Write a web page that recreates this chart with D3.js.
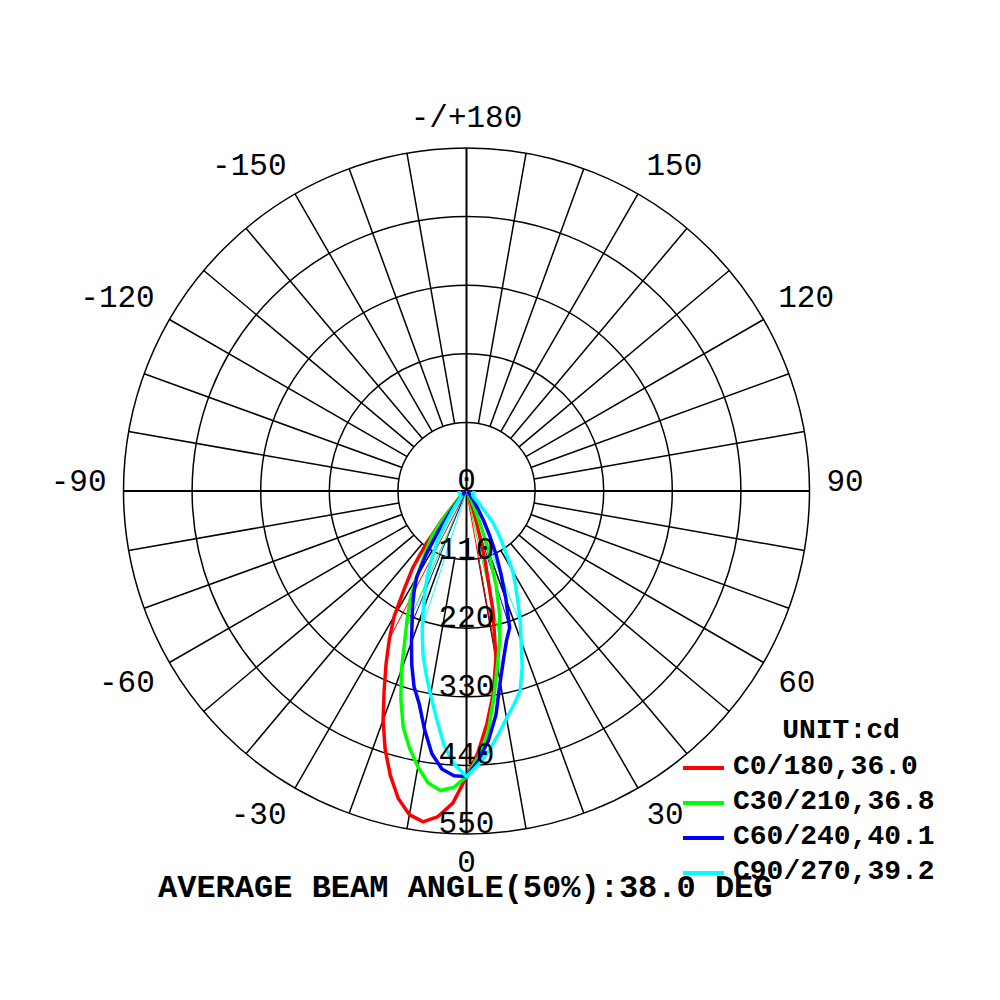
<!DOCTYPE html>
<html><head><meta charset="utf-8">
<script src="https://cdn.jsdelivr.net/npm/d3@7"></script>
<style>body{margin:0;background:#fff}</style>
</head><body>
<svg id="chart" width="1000" height="1000"></svg>
<script>
// gamma angles (deg from nadir)
const gamma = [0,2.5,5,7.5,10,12.5,15,17.5,20,22.5,25,27.5,30,32.5,35,37.5,40,45,50,55,60,70,80,90];
// intensities (cd); "right" = C0/C30/C60/C90, "left" = C180/C210/C240/C270
const c0   = [458,420,375,328,272,195,114,55,28,18,13,11,10,8,7,6,5,5,4,4,4,4,4,4];
const c180 = [458,501,524,535,527,505,472,434,391,345,305,268,232,185,150,105,62,20,8,5,4,4,4,4];
const c30  = [458,427,391,335,285,245,205,157,100,60,30,18,10,7,5,4,4,4,4,4,4,4,4,4];
const c210 = [458,476,482,472,449,422,392,350,305,258,225,195,160,129,108,90,55,18,8,5,4,4,4,4];
const c60  = [458,433,402,362,311,275,248,230,185,145,112,80,55,35,22,15,10,6,4,4,4,4,4,4];
const c240 = [458,457,448,425,388,350,325,292,258,228,205,182,160,120,80,45,25,10,5,4,4,4,4,4];
const c90  = [458,439,418,393,370,351,332,297,256,225,195,170,148,118,98,80,65,30,14,12,12,12,12,12];
const c270 = [458,439,410,368,332,300,270,236,203,174,148,118,93,65,42,28,18,12,12,12,12,12,12,12];

const planeRight = [c0, c30, c60, c90];
const planeLeft  = [c180, c210, c240, c270];
const legendLabels = ["C0/180,36.0","C30/210,36.8","C60/240,40.1","C90/270,39.2"];
const colors = ["#ff0000","#00ff00","#0000ff","#00ffff"];

const ringTicks = [0,110,220,330,440,550];
const angleTicks  = [0,30,60,90,120,150,180,-150,-120,-90,-60,-30];
const angleLabels = ["0","30","60","90","120","150","-/+180","-150","-120","-90","-60","-30"];
const unitLabel = "UNIT:cd";
const footer = "AVERAGE BEAM ANGLE(50%):38.0 DEG";

const svg = d3.select("#chart");
const cx = 466.5, cy = 491;
const R = 343;
const r = d3.scaleLinear().domain([0,550]).range([0,R]);
const g = svg.append("g").attr("transform",`translate(${cx},${cy})`);
const rad = d => d*Math.PI/180;
const font = "'Liberation Mono','Courier New',monospace";

// rings
g.selectAll("circle.ring").data(ringTicks.filter(d=>d>0)).join("circle")
  .attr("r", d=>r(d)).attr("fill","none").attr("stroke","#000").attr("stroke-width",1.5);

// spokes every 10 deg from first ring outward
const spokes = d3.range(0,360,10).filter(a=>a%90!==0);
g.selectAll("line.spoke").data(spokes).join("line")
  .attr("x1", a=>r(110)*Math.sin(rad(a))).attr("y1", a=>r(110)*Math.cos(rad(a)))
  .attr("x2", a=>r(550)*Math.sin(rad(a))).attr("y2", a=>r(550)*Math.cos(rad(a)))
  .attr("stroke","#000").attr("stroke-width",1.5);
// main axes through center
g.selectAll("line.axis").data([0,90]).join("line")
  .attr("x1", a=>-r(550)*Math.sin(rad(a))).attr("y1", a=>-r(550)*Math.cos(rad(a)))
  .attr("x2", a=> r(550)*Math.sin(rad(a))).attr("y2", a=> r(550)*Math.cos(rad(a)))
  .attr("stroke","#000").attr("stroke-width",2);

// curves
const line = d3.lineRadial().angle(d=>d[0]).radius(d=>r(d[1]));
function planePoints(i){
  const L = planeLeft[i], Rt = planeRight[i];
  const pts = [];
  for(let k=gamma.length-1;k>=0;k--) pts.push([Math.PI+rad(gamma[k]), L[k]]);
  for(let k=1;k<gamma.length;k++) pts.push([Math.PI-rad(gamma[k]), Rt[k]]);
  return pts;
}
function crossing(vals, half){
  const k0 = d3.maxIndex(vals);
  for(let i=k0;i<vals.length-1;i++){
    if(vals[i]>=half && vals[i+1]<half){
      const t=(vals[i]-half)/(vals[i]-vals[i+1]);
      return gamma[i]+t*(gamma[i+1]-gamma[i]);
    }
  }
  return null;
}
planeRight.forEach((_,i)=>{
  const half = 0.5*Math.max(d3.max(planeLeft[i]), d3.max(planeRight[i]));
  const aL = crossing(planeLeft[i], half), aR = crossing(planeRight[i], half);
  [[aL,-1],[aR,1]].forEach(([a,s])=>{
    if(a==null) return;
    g.append("line").attr("x1",0).attr("y1",0)
      .attr("x2", s*r(half)*Math.sin(rad(a))).attr("y2", r(half)*Math.cos(rad(a)))
      .attr("stroke",colors[i]).attr("stroke-width",1);
  });
});
planeRight.forEach((_,i)=>{
  g.append("path").attr("d", line(planePoints(i)))
    .attr("fill","none").attr("stroke",colors[i]).attr("stroke-width",3.5)
    .attr("stroke-linejoin","round");
});

// radial value labels
g.selectAll("text.rl").data(ringTicks).join("text")
  .attr("x",0).attr("y", d=>r(d)-1)
  .attr("text-anchor","middle").attr("font-family",font).attr("font-size",31)
  .text(d=>d);

// angle labels
const LR = 360, cap = 21;
angleTicks.forEach((a,i)=>{
  const s = Math.sin(rad(a)), c = Math.cos(rad(a));
  const x = LR*s, y = LR*c;
  const anchor = s>0.01 ? "start" : (s<-0.01 ? "end" : "middle");
  const yy = c < -0.01 ? y-4.5 : (c > 0.01 ? y+cap : y);
  g.append("text").attr("x",x).attr("y",yy).attr("text-anchor",anchor)
    .attr("font-family",font).attr("font-size",31).text(angleLabels[i]);
});

// legend
svg.append("text").attr("x",841).attr("y",738).attr("text-anchor","middle")
  .attr("font-family",font).attr("font-weight","bold").attr("font-size",28).text(unitLabel);
const leg = svg.append("g");
legendLabels.forEach((t,i)=>{
  const y = 768 + i*35;
  leg.append("line").attr("x1",683).attr("x2",724).attr("y1",y).attr("y2",y)
    .attr("stroke",colors[i]).attr("stroke-width",4);
  leg.append("text").attr("x",733).attr("y",y+6).attr("font-family",font)
    .attr("font-weight","bold").attr("font-size",28).text(t);
});

// footer
svg.append("text").attr("x",158).attr("y",897).attr("font-family",font)
  .attr("font-weight","bold").attr("font-size",32).text(footer);
</script>
</body></html>
